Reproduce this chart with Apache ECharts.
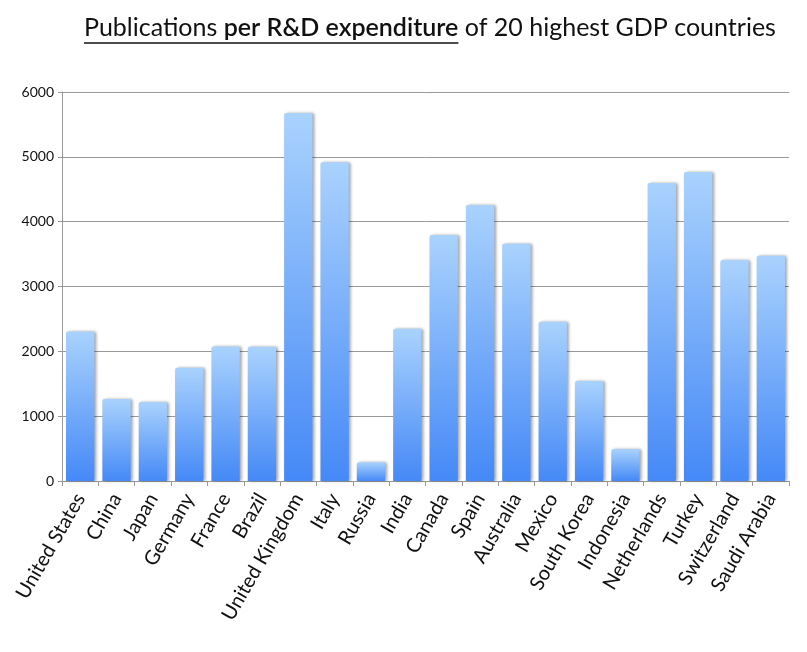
<!DOCTYPE html>
<html><head><meta charset="utf-8">
<script src="https://cdn.jsdelivr.net/npm/echarts@6/dist/echarts.min.js"></script>
<style>html,body{margin:0;padding:0;background:#fff}#c{width:807px;height:652px}</style>
</head><body><div id="c"></div>
<script>
const countries = ["United States","China","Japan","Germany","France","Brazil","United Kingdom","Italy","Russia","India","Canada","Spain","Australia","Mexico","South Korea","Indonesia","Netherlands","Turkey","Switzerland","Saudi Arabia"];
const publicationsPerRD = [2305,1266,1220,1745,2074,2069,5677,4915,288,2347,3793,4256,3659,2455,1544,494,4596,4766,3407,3474];
const yTicks = [0,1000,2000,3000,4000,5000,6000];
const titleParts = ["Publications ", "per R&D expenditure", " of 20 highest GDP countries"];

const FONT = "Lato, 'Open Sans', sans-serif";
const TFS = 25;
const ctx = document.createElement('canvas').getContext('2d');
function w(t, weight){ ctx.font = (weight||'normal') + ' ' + TFS + 'px ' + FONT; return ctx.measureText(t).width; }
const BW = '600';
const w0 = w(titleParts[0]), w1 = w(titleParts[1], BW), w2 = w(titleParts[2]);
const tx = 84, ty = 30;

const chart = echarts.init(document.getElementById('c'), null, {renderer:'canvas'});
chart.setOption({
  animation:false,
  backgroundColor:'#fff',
  grid:{left:62, right:18, top:92, bottom:171},
  xAxis:{type:'category', data:countries, boundaryGap:true,
    axisLine:{lineStyle:{color:'#999', width:1}},
    axisTick:{show:true, alignWithLabel:false, length:5, lineStyle:{color:'#999'}},
    axisLabel:{rotate:60, interval:0, color:'#111', fontSize:20, fontFamily:FONT, margin:14}},
  yAxis:{type:'value', min:yTicks[0], max:yTicks[yTicks.length-1], interval:1000,
    axisLine:{show:true, lineStyle:{color:'#999'}},
    axisTick:{show:true, length:4, lineStyle:{color:'#999'}},
    splitLine:{lineStyle:{color:'#999', width:1}},
    axisLabel:{color:'#111', fontSize:14, fontFamily:FONT, margin:8, formatter:v=>String(v)}},
  series:[{type:'bar', data:publicationsPerRD, barCategoryGap:'22%',
    itemStyle:{borderRadius:[2,2,0,0],
      color:new echarts.graphic.LinearGradient(0,0,0,1,[{offset:0,color:'#a9d2fd'},{offset:1,color:'#4589f7'}]),
      shadowColor:'rgba(0,0,0,0.35)', shadowBlur:3, shadowOffsetX:2, shadowOffsetY:0}}],
  graphic:[
    {type:'text', left:tx, top:ty-TFS/2-2, style:{text:titleParts[0], font:TFS+'px '+FONT, fill:'#111'}},
    {type:'text', left:tx+w0, top:ty-TFS/2-2, style:{text:titleParts[1], font:BW+' '+TFS+'px '+FONT, fill:'#111'}},
    {type:'text', left:tx+w0+w1, top:ty-TFS/2-2, style:{text:titleParts[2], font:TFS+'px '+FONT, fill:'#111'}},
    {type:'line', shape:{x1:tx, y1:43, x2:tx+w0+w1, y2:43}, style:{stroke:'#111', lineWidth:1.5}}
  ]
});
</script></body></html>
